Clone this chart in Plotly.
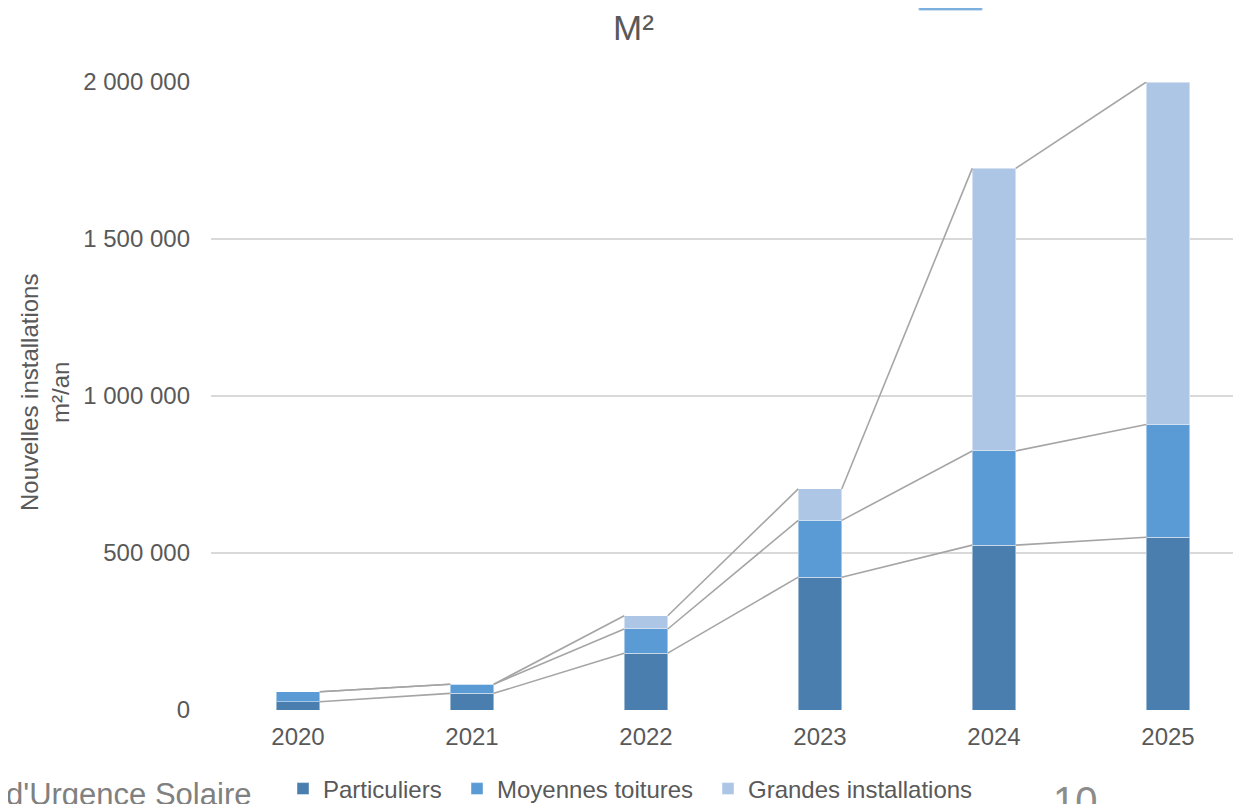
import plotly.graph_objects as go

years = ["2020", "2021", "2022", "2023", "2024", "2025"]
particuliers = [26500, 53000, 181000, 423000, 525000, 550000]
moyennes_toitures = [31500, 29000, 77000, 181000, 300000, 359000]
grandes_installations = [0, 0, 42000, 100000, 900000, 1091000]

series_names = ["Particuliers", "Moyennes toitures", "Grandes installations"]
series_colors = ["#4A7EAE", "#5B9BD5", "#ADC6E6"]
y_tickvals = [0, 500000, 1000000, 1500000, 2000000]
y_ticktext = ["0", "500 000", "1 000 000", "1 500 000", "2 000 000"]

# page body has an 8px margin: figure occupies screen 8..1241 x 8..804
OX, OY = 8, 8
W, H = 1241 - OX, 804 - OY
L, R, T = 211 - OX, 0, 82 - OY
B = H - (710 - OY)
PW, PH = W - L - R, H - T - B


def px(x):  # screen px -> paper x
    return (x - OX - L) / PW


def py(y):  # screen px -> paper y
    return (H - B - (y - OY)) / PH


def cx(x):  # screen px -> container x
    return (x - OX) / W


def cy(y):  # screen px -> container y
    return 1 - (y - OY) / H


bar_w = 0.25
xs = list(range(len(years)))
all_series = [particuliers, moyennes_toitures, grandes_installations]
legend_ids = ["legend", "legend2", "legend3"]
legend_text_x = [320, 494, 745]

fig = go.Figure()
for name, vals, col, lid in zip(series_names, all_series, series_colors, legend_ids):
    fig.add_trace(go.Bar(
        x=xs, y=vals, name=name, width=bar_w, legend=lid,
        marker=dict(color=col, line=dict(color="rgba(255,255,255,0.45)", width=1)),
        hoverinfo="skip",
    ))

# series lines (Excel style) connecting stacked segment tops
cum = [0] * len(years)
for vals in all_series:
    cum = [c + v for c, v in zip(cum, vals)]
    lx, ly = [], []
    for i in range(len(years) - 1):
        lx += [xs[i] + bar_w / 2, xs[i + 1] - bar_w / 2, None]
        ly += [cum[i], cum[i + 1], None]
    fig.add_trace(go.Scatter(
        x=lx, y=ly, mode="lines", line=dict(color="#A5A5A5", width=1.6),
        showlegend=False, hoverinfo="skip", cliponaxis=False,
    ))

font_family = "Arial, Liberation Sans, sans-serif"
legend_common = dict(
    orientation="h", xref="container", yref="container",
    xanchor="left", yanchor="middle", y=cy(789),
    font=dict(size=24, color="#595959"), itemwidth=30,
    bgcolor="rgba(0,0,0,0)",
)
layout_legends = {}
for lid, tx in zip(legend_ids, legend_text_x):
    layout_legends[lid] = dict(legend_common, x=cx(tx - 37))

fig.update_layout(
    width=W, height=H,
    margin=dict(l=L, r=R, t=T, b=B, pad=0, autoexpand=False),
    barmode="stack",
    plot_bgcolor="white", paper_bgcolor="white",
    font=dict(family=font_family, color="#595959", size=24),
    showlegend=True,
    xaxis=dict(
        tickmode="array", tickvals=xs, ticktext=years,
        range=[-0.5, (1241 - 298) / 174.0], showgrid=False, zeroline=False,
        showline=False, ticks="", ticklabelstandoff=10,
        tickfont=dict(size=24, color="#595959"), fixedrange=True,
    ),
    yaxis=dict(
        range=[0, 2000000], tickmode="array", tickvals=y_tickvals,
        ticktext=y_ticktext, showgrid=True, gridcolor="#D9D9D9", gridwidth=1.5,
        zeroline=False, showline=False, ticks="", ticklabelstandoff=20,
        tickfont=dict(size=24, color="#595959"), fixedrange=True,
    ),
    annotations=[
        dict(text="M²", x=px(633), y=py(27), xref="paper", yref="paper",
             xanchor="center", yanchor="middle", showarrow=False,
             font=dict(size=35, color="#595959")),
        dict(text="Nouvelles installations<br>m²/an", x=px(45), y=py(393),
             xref="paper", yref="paper", xanchor="center", yanchor="middle",
             textangle=-90, showarrow=False, font=dict(size=24, color="#595959")),
        dict(text="d'Urgence Solaire", x=px(4), y=py(775), xref="paper", yref="paper",
             xanchor="left", yanchor="top", showarrow=False,
             font=dict(size=31, color="#808080")),
        dict(text="10", x=px(1075), y=py(777), xref="paper", yref="paper",
             xanchor="center", yanchor="top", showarrow=False,
             font=dict(size=40, color="#8C8C8C")),
    ],
    shapes=[
        dict(type="rect", xref="paper", yref="paper", x0=px(919), x1=px(982),
             y0=py(10), y1=py(8), fillcolor="#5B9BD5",
             line=dict(color="#9DC3E6", width=1)),
    ],
    **layout_legends,
)

fig.write_html("out.html")
